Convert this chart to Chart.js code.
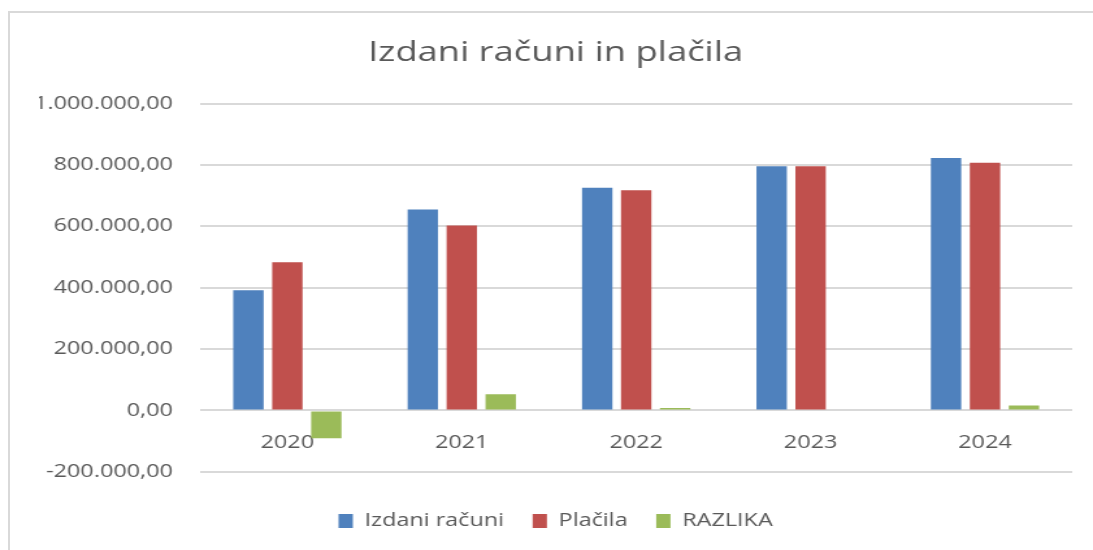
<!DOCTYPE html>
<html>
<head>
<meta charset="utf-8">
<script src="https://cdn.jsdelivr.net/npm/chart.js@4/dist/chart.umd.min.js"></script>
<style>
  html, body { margin: 0; padding: 0; background: #fff; overflow: hidden; }
  #frame {
    position: absolute; left: 8px; top: 11px; width: 1200px; height: 600px;
    border-left: 2px solid #d9d9d9; border-top: 2px solid #d9d9d9;
  }
  #chart { position: absolute; left: 0; top: 0; }
</style>
</head>
<body>
<div id="frame"></div>
<!-- drawn 841 wide and stretched to 1093, the reference is widened the same way -->
<canvas id="chart" width="841" height="550" style="width:1093px;height:550px"></canvas>
<script>
const years = ['2020', '2021', '2022', '2023', '2024'];
const izdaniRacuni = [392000, 655000, 726000, 796000, 823000];
const placila = [483000, 603000, 718000, 796000, 807000];
const razlika = [-91000, 53000, 8000, 0, 16000];
const yTicks = [-200000, 0, 200000, 400000, 600000, 800000, 1000000];

const textColor = '#595959';
const fontFamily = '"Open Sans", sans-serif';

function formatSl(v) {
    return v.toLocaleString('de-DE', {minimumFractionDigits: 2, maximumFractionDigits: 2});
}

const data = {
    labels: years,
    datasets: [
        {label: 'Izdani računi', data: izdaniRacuni, backgroundColor: '#4f81bd'},
        {label: 'Plačila', data: placila, backgroundColor: '#c0504d'},
        {label: 'RAZLIKA', data: razlika, backgroundColor: '#9bbb59'},
    ],
};

const config = {
    type: 'bar',
    data: data,
    options: {
        responsive: false,
        animation: false,
        devicePixelRatio: 1,
        layout: {padding: {left: 30, right: 16, top: 0, bottom: 10}},
        datasets: {
            bar: {categoryPercentage: 0.67, barPercentage: 0.78, borderWidth: 0},
        },
        plugins: {
            title: {
                display: true,
                text: 'Izdani računi in plačila',
                color: textColor,
                font: {family: fontFamily, size: 28, weight: 'normal'},
                padding: {top: 36, bottom: 34},
            },
            legend: {
                position: 'bottom',
                // empty title only used as space above the legend row
                title: {display: true, text: '', font: {size: 1}, padding: {top: 17, bottom: 0}},
                labels: {
                    color: textColor,
                    font: {family: fontFamily, size: 18},
                    boxWidth: 11,
                    boxHeight: 14,
                    padding: 22,
                },
            },
            tooltip: {enabled: false},
        },
        scales: {
            x: {
                position: {y: 0},
                grid: {display: false, drawTicks: false},
                border: {display: false},
                ticks: {color: textColor, font: {family: fontFamily, size: 18}, padding: 22},
            },
            y: {
                min: -200000,
                max: 1000000,
                afterBuildTicks: (axis) => { axis.ticks = yTicks.map(v => ({value: v})); },
                afterFit: (axis) => { axis.width = 124; },
                grid: {color: '#d9d9d9', lineWidth: 2, drawTicks: false},
                border: {display: false},
                ticks: {
                    color: textColor,
                    font: {family: fontFamily, size: 18},
                    padding: 21,
                    callback: (v) => formatSl(v),
                },
            },
        },
    },
};

new Chart(document.getElementById('chart'), config);
</script>
</body>
</html>
